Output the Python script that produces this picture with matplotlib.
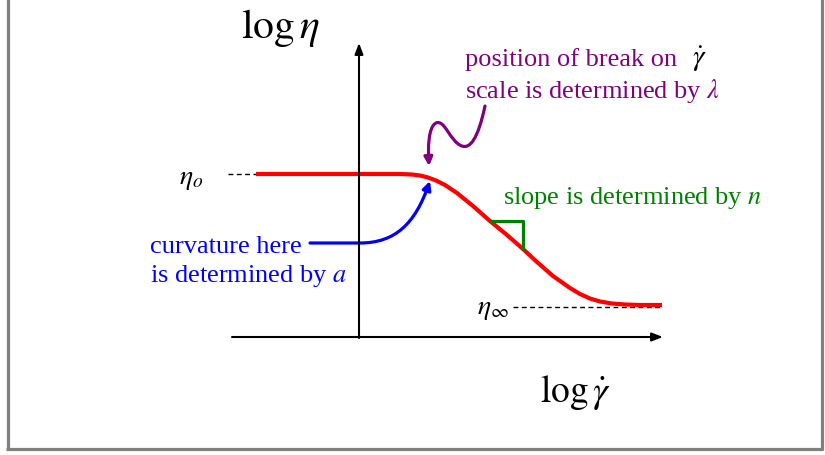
import matplotlib
matplotlib.use("Agg")
import matplotlib.pyplot as plt
from matplotlib.path import Path
from matplotlib.patches import FancyArrowPatch

plt.rcParams['font.family'] = ['Liberation Serif', 'DejaVu Serif']
plt.rcParams['mathtext.fontset'] = 'stix'

# flow curve, drawn in page units (x right, y down)
curve_x = [256, 300, 350, 400, 412, 420, 428, 436, 445, 457, 473, 490, 507,
           523, 537, 553, 570, 580, 590, 600, 612, 625, 640, 662]
curve_y = [175, 175, 175, 175, 175.5, 176.5, 178.5, 181.5, 186, 194, 207, 222, 236,
           250, 263, 277, 289, 295, 299.5, 302.5, 304.5, 305.5, 306, 306]

# plateau levels
eta0_level = 175
etainf_level = 308

# slope triangle corners
tri_x = [490, 523, 523]
tri_y = [222, 222, 251]

# annotation paths (start, control points, tip)
blue_pts = [(310, 244), (360, 244), (395, 244), (415, 225), (430, 182)]
purple_pts = [(485, 107), (478, 140), (470, 150), (462, 147),
              (450, 143), (445, 120), (436, 124),
              (428, 128), (428, 150), (429, 167)]

fig = plt.figure(figsize=(8.25, 4.56), dpi=100)
ax = fig.add_axes([0, 0, 1, 1])
ax.set_xlim(0, 825)
ax.set_ylim(456, 0)
ax.axis('off')

# frame (open at the top)
ax.plot([7.5, 7.5], [0, 451], color='#808080', lw=2.3, solid_capstyle='butt')
ax.plot([821.5, 821.5], [0, 451], color='#808080', lw=2.3, solid_capstyle='butt')
ax.plot([6, 823], [450.5, 450.5], color='#808080', lw=2.3, solid_capstyle='butt')

# axes arrows
arrow = dict(arrowstyle='-|>,head_length=0.65,head_width=0.25', color='black',
             lw=1.5, shrinkA=0, shrinkB=0)
ax.annotate('', xy=(359, 44), xytext=(359, 339), arrowprops=arrow)
ax.annotate('', xy=(663, 338), xytext=(232, 338), arrowprops=arrow)

# plateau guides
ax.plot([228, 256], [eta0_level, eta0_level], color='black', lw=1, dashes=(3.5, 2.5))
ax.plot([513, 662], [etainf_level, etainf_level], color='black', lw=1, dashes=(3.5, 2.5))

ax.plot(curve_x, curve_y, color='red', lw=3, solid_capstyle='butt', solid_joinstyle='round')
ax.plot(tri_x, tri_y, color='green', lw=2.3, solid_capstyle='butt')


def bezier_arrow(pts, color):
    if len(pts) == 5:
        codes = [Path.MOVETO, Path.LINETO, Path.CURVE4, Path.CURVE4, Path.CURVE4]
    else:
        codes = [Path.MOVETO] + [Path.CURVE4] * (len(pts) - 1)
    p = FancyArrowPatch(path=Path(pts, codes),
                        arrowstyle='-|>,head_length=5,head_width=2.5',
                        color=color, lw=2.3, shrinkA=0, shrinkB=0)
    ax.add_patch(p)


bezier_arrow(blue_pts, 'blue')
bezier_arrow(purple_pts, 'purple')

# labels
ax.text(241, 38, r'$\log\eta$', fontsize=30, ha='left', va='baseline')
ax.text(540, 402, r'$\log\dot{\gamma}$', fontsize=27, ha='left', va='baseline')
ax.text(179, 184, r'$\eta_o$', fontsize=20, ha='left', va='baseline')
ax.text(477, 314, r'$\eta_\infty$', fontsize=20, ha='left', va='baseline')

ax.text(465, 66, 'position of break on', fontsize=19, color='purple', ha='left', va='baseline')
ax.text(692, 66, r'$\dot{\gamma}$', fontsize=21, color='black', ha='left', va='baseline')
ax.text(465, 98, r'scale is determined by $\lambda$', fontsize=19, color='purple',
        ha='left', va='baseline')
ax.text(503, 204, r'slope is determined by $n$', fontsize=19, color='green',
        ha='left', va='baseline')
ax.text(150, 253, 'curvature here', fontsize=19, color='blue', ha='left', va='baseline')
ax.text(150, 282, r'is determined by $a$', fontsize=19, color='blue', ha='left', va='baseline')

fig.savefig('out.png', dpi=100)
